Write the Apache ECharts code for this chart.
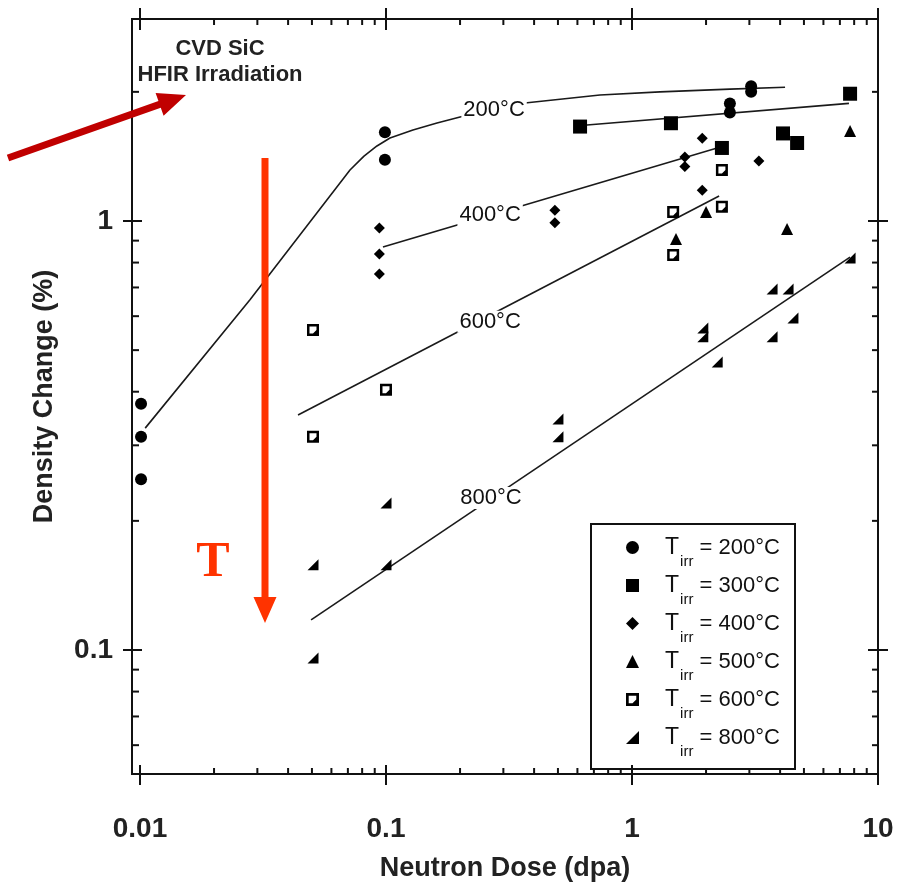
<!DOCTYPE html>
<html>
<head>
<meta charset="utf-8">
<script src="https://cdn.jsdelivr.net/npm/echarts@6/dist/echarts.min.js"></script>
<style>
html, body { margin: 0; padding: 0; background: #fff; }
#chart { width: 901px; height: 888px; }
</style>
</head>
<body>
<div id="chart"></div>
<script>
// measured points, dose in dpa, density change in %
var dose200 = [0.0101, 0.0101, 0.0101, 0.099, 0.099, 2.5, 2.5, 3.05, 3.05];
var dc200 = [0.375, 0.314, 0.25, 1.61, 1.39, 1.88, 1.79, 2.06, 2.0];
var dose300 = [0.615, 1.44, 2.32, 4.11, 4.69, 7.7];
var dc300 = [1.66, 1.69, 1.48, 1.60, 1.52, 1.98];
var dose400 = [0.094, 0.094, 0.094, 0.486, 0.486, 1.64, 1.64, 1.93, 1.93, 3.28];
var dc400 = [0.963, 0.838, 0.752, 1.06, 0.99, 1.41, 1.34, 1.56, 1.18, 1.38];
var dose500 = [1.51, 2.0, 4.27, 7.7];
var dc500 = [0.908, 1.05, 0.958, 1.62];
var dose600 = [0.0505, 0.0505, 0.1, 1.47, 1.47, 2.32, 2.32];
var dc600 = [0.557, 0.314, 0.404, 1.05, 0.833, 1.08, 1.315];
var dose800 = [0.0505, 0.0505, 0.1, 0.1, 0.5, 0.5, 1.94, 1.94, 2.22, 3.71, 4.31, 4.51, 3.71, 7.7];
var dc800 = [0.158, 0.0958, 0.22, 0.158, 0.3455, 0.314, 0.563, 0.537, 0.469, 0.694, 0.694, 0.594, 0.537, 0.82];

// fitted trend lines
var fit200Dose = [0.0105, 0.028, 0.0714, 0.0814, 0.0919, 0.1038, 0.1287, 0.1612, 0.2, 0.367, 0.741, 1.30, 2.5, 4.19];
var fit200Dc = [0.329, 0.655, 1.315, 1.417, 1.496, 1.561, 1.630, 1.692, 1.747, 1.884, 1.966, 2.0, 2.03, 2.05];
var fit300Dose = [0.62, 7.62];
var fit300Dc = [1.67, 1.88];
var fit400Dose = [0.0972, 2.22];
var fit400Dc = [0.870, 1.48];
var fit600Dose = [0.0439, 2.26];
var fit600Dc = [0.353, 1.144];
var fit800Dose = [0.0496, 7.7];
var fit800Dc = [0.1175, 0.824];

var fitLabelText = ['200°C', '400°C', '600°C', '800°C'];
var fitLabelDose = [0.275, 0.265, 0.265, 0.267];
var fitLabelDc = [1.814, 1.033, 0.582, 0.226];

var tempNames = ['200°C', '300°C', '400°C', '500°C', '600°C', '800°C'];

var xMajor = [0.01, 0.1, 1, 10];
var yMajor = [0.1, 1];

var FONT = '"Liberation Sans", Arial, sans-serif';
var INK = '#111';

function pairs(xs, ys) {
	return xs.map(function(x, i) { return [x, ys[i]]; });
}

function powLabel(v) {
	var l = Math.log10(v), r = Math.round(l);
	if (Math.abs(l - r) > 1e-6) return '';
	return r < 0 ? Math.pow(10, r).toFixed(-r) : String(Math.pow(10, r));
}

function minorTicks(lo, hi) {
	var out = [];
	for (var e = -3; e <= 1; e++) {
		for (var m = 2; m <= 9; m++) {
			var v = m * Math.pow(10, e);
			if (v > lo && v < hi) out.push(v);
		}
	}
	return out;
}

function arrowPoints(x1, y1, x2, y2, sw, hl, hw) {
	var dx = x2 - x1, dy = y2 - y1, L = Math.sqrt(dx * dx + dy * dy);
	var ux = dx / L, uy = dy / L, nx = -uy, ny = ux;
	var bx = x2 - ux * hl, by = y2 - uy * hl;
	return [
		[x1 + nx * sw / 2, y1 + ny * sw / 2], [bx + nx * sw / 2, by + ny * sw / 2],
		[bx + nx * hw, by + ny * hw], [x2, y2], [bx - nx * hw, by - ny * hw],
		[bx - nx * sw / 2, by - ny * sw / 2], [x1 - nx * sw / 2, y1 - ny * sw / 2]
	];
}

var openSquare = 'path://M0,0 L12,0 L12,12 L0,12 Z M2.5,2.5 L2.5,9.5 L6,9.5 L9.5,6 L9.5,2.5 Z';
var halfTriangle = 'path://M12,0 L12,12 L0,12 Z';

function scatter(name, xs, ys, symbol, size) {
	return {
		name: name, type: 'scatter', data: pairs(xs, ys),
		symbol: symbol, symbolSize: size, symbolKeepAspect: true,
		itemStyle: { color: '#000', opacity: 1 }, z: 3
	};
}

function fit(xs, ys) {
	return {
		name: 'fit', type: 'line', data: pairs(xs, ys), smooth: false,
		symbol: 'none', showSymbol: false, silent: true,
		lineStyle: { color: '#1a1a1a', width: 1.6 }, z: 2
	};
}

var chart = echarts.init(document.getElementById('chart'));

var option = {
	animation: false,
	grid: { left: 132, right: 23, top: 19, bottom: 114, show: true, borderColor: INK, borderWidth: 2, outerBoundsMode: 'none' },
	xAxis: {
		type: 'log', logBase: 10, min: 0.00928, max: 10,
		name: 'Neutron Dose (dpa)', nameLocation: 'middle', nameGap: 81,
		nameTextStyle: { fontSize: 27, fontWeight: 'bold', fontFamily: FONT, color: '#222' },
		axisLine: { show: false }, axisTick: { show: false }, splitLine: { show: false },
		axisLabel: { formatter: powLabel, interval: 0, fontSize: 28, fontWeight: 'bold', fontFamily: FONT, color: '#222', margin: 41 }
	},
	yAxis: {
		type: 'log', logBase: 10, min: 0.0514, max: 2.957,
		name: 'Density Change (%)', nameLocation: 'middle', nameGap: 74,
		nameTextStyle: { fontSize: 27, fontWeight: 'bold', fontFamily: FONT, color: '#222' },
		axisLine: { show: false }, axisTick: { show: false }, splitLine: { show: false },
		axisLabel: { formatter: powLabel, interval: 0, fontSize: 28, fontWeight: 'bold', fontFamily: FONT, color: '#222', margin: 19 }
	},
	legend: {
		data: tempNames, orient: 'vertical', left: 626, top: 522, padding: 0,
		itemGap: -13, itemWidth: 13, itemHeight: 13, selectedMode: false,
		formatter: function(n) { return '{t|T}{s|irr}{v| = ' + n + '}'; },
		textStyle: {
			fontFamily: FONT, color: '#111',
			rich: {
				t: { fontSize: 23, lineHeight: 22, padding: [14, 0, 14, 21], fontFamily: FONT, color: '#111' },
				s: { fontSize: 15, lineHeight: 22, padding: [28, 0, 0, 1], fontFamily: FONT, color: '#111' },
				v: { fontSize: 22, lineHeight: 22, padding: [14, 0, 14, 0], fontFamily: FONT, color: '#111' }
			}
		}
	},
	series: [
		fit(fit200Dose, fit200Dc),
		fit(fit300Dose, fit300Dc),
		fit(fit400Dose, fit400Dc),
		fit(fit600Dose, fit600Dc),
		fit(fit800Dose, fit800Dc),
		scatter(tempNames[0], dose200, dc200, 'circle', 12),
		scatter(tempNames[1], dose300, dc300, 'rect', 14),
		scatter(tempNames[2], dose400, dc400, 'diamond', 11),
		scatter(tempNames[3], dose500, dc500, 'triangle', 12),
		scatter(tempNames[4], dose600, dc600, openSquare, 12),
		scatter(tempNames[5], dose800, dc800, halfTriangle, 11),
		{
			name: 'fitLabels', type: 'scatter', silent: true, z: 4,
			data: fitLabelDose.map(function(x, i) { return [x, fitLabelDc[i], fitLabelText[i]]; }),
			symbolSize: 1, itemStyle: { color: 'rgba(0,0,0,0)', opacity: 1 },
			label: {
				show: true, position: 'inside', formatter: function(p) { return p.data[2]; },
				fontSize: 22, fontFamily: FONT, color: '#111', backgroundColor: '#fff', padding: [0, 2]
			}
		}
	]
};
chart.setOption(option);

// ticks on all four sides, placed through the axis scales
var g = [];
var x0 = 132, x1 = 878, y0 = 19, y1 = 774;
function tick(a, b, c, d) {
	g.push({ type: 'line', silent: true, z: 10, shape: { x1: a, y1: b, x2: c, y2: d }, style: { stroke: INK, lineWidth: 2 } });
}
xMajor.forEach(function(v) {
	var px = chart.convertToPixel({ xAxisIndex: 0 }, v);
	tick(px, y1 - 9, px, y1 + 11);
	tick(px, y0 - 11, px, y0 + 11);
});
minorTicks(0.00928, 10).forEach(function(v) {
	var px = chart.convertToPixel({ xAxisIndex: 0 }, v);
	tick(px, y1, px, y1 - 6);
	tick(px, y0, px, y0 + 6);
});
yMajor.forEach(function(v) {
	var py = chart.convertToPixel({ yAxisIndex: 0 }, v);
	tick(x0 - 9, py, x0 + 10, py);
	tick(x1 - 10, py, x1 + 10, py);
});
minorTicks(0.0514, 2.957).forEach(function(v) {
	var py = chart.convertToPixel({ yAxisIndex: 0 }, v);
	tick(x0, py, x0 + 7, py);
	tick(x1, py, x1 - 6, py);
});

// legend frame
g.push({ type: 'rect', silent: true, z: 9, shape: { x: 591, y: 524, width: 204, height: 245 }, style: { fill: 'none', stroke: INK, lineWidth: 2 } });

// annotations
g.push({ type: 'text', silent: true, z: 10, style: { text: 'CVD SiC', x: 220, y: 49, align: 'center', verticalAlign: 'middle', font: 'bold 22px ' + FONT, fill: '#222' } });
g.push({ type: 'text', silent: true, z: 10, style: { text: 'HFIR Irradiation', x: 220, y: 75, align: 'center', verticalAlign: 'middle', font: 'bold 22px ' + FONT, fill: '#222' } });
g.push({ type: 'polygon', silent: true, z: 11, shape: { points: arrowPoints(8, 158, 186, 95, 7, 28, 12) }, style: { fill: '#C00000' } });
g.push({ type: 'polygon', silent: true, z: 11, shape: { points: arrowPoints(265, 158, 265, 623, 7, 26, 11.5) }, style: { fill: '#FF3300' } });
g.push({ type: 'text', silent: true, z: 11, style: { text: 'T', x: 213, y: 563, align: 'center', verticalAlign: 'middle', font: 'bold 50px "Liberation Serif", "Times New Roman", serif', fill: '#FF3300' } });

chart.setOption({ graphic: g });
</script>
</body>
</html>
